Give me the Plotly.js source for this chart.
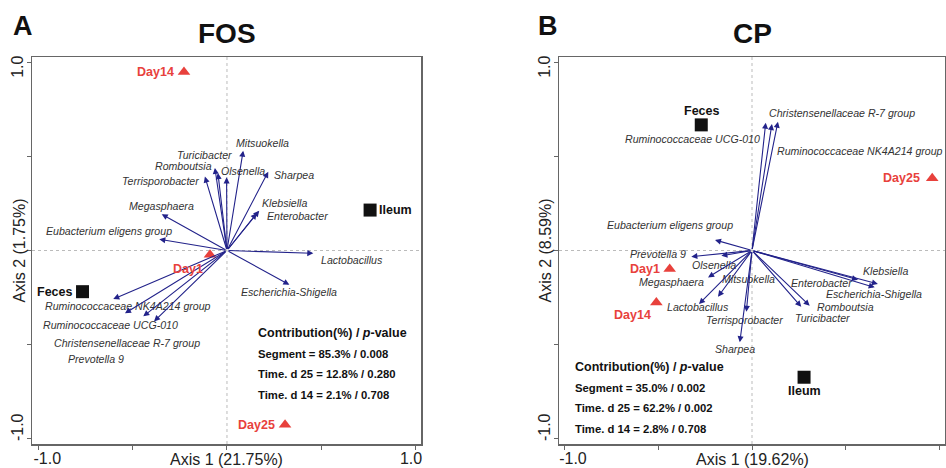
<!DOCTYPE html>
<html><head><meta charset="utf-8">
<script src="https://cdn.plot.ly/plotly-3.0.1.min.js"></script>
<style>html,body{margin:0;padding:0;background:#fff;}</style>
</head><body><div id="chart" style="width:946px;height:468px;"></div>
<script>
// ---------- Panel A : FOS ----------
const fosTaxa = ['Mitsuokella','Turicibacter','Romboutsia','Olsenella','Terrisporobacter','Sharpea','Klebsiella','Enterobacter','Megasphaera','Eubacterium eligens group','Lactobacillus','Escherichia-Shigella','Ruminococcaceae NK4A214 group','Ruminococcaceae UCG-010','Christensenellaceae R-7 group','Prevotella 9'];
const fosTaxaX = [0.086,-0.064,-0.048,-0.002,-0.117,0.219,0.171,0.158,-0.346,-0.359,0.458,0.331,-0.603,-0.541,-0.444,-0.387];
const fosTaxaY = [0.531,0.439,0.412,0.389,0.393,0.419,0.212,0.198,0.193,0.060,-0.015,-0.182,-0.258,-0.334,-0.350,-0.377];
const fosSamples = ['Day14','Day1','Day25','Feces','Ileum'];
const fosSampleX = [-0.228,-0.090,0.308,-0.766,0.759];
const fosSampleY = [0.949,-0.022,-0.927,-0.219,0.215];
const fosStats = ['Segment = 85.3% / 0.008','Time. d 25 = 12.8% / 0.280','Time. d 14 = 2.1% / 0.708'];
const fosAxis1 = 'Axis 1 (21.75%)';
const fosAxis2 = 'Axis 2 (1.75%)';

// ---------- Panel B : CP ----------
const cpTaxa = ['Ruminococcaceae UCG-010','Christensenellaceae R-7 group','Ruminococcaceae NK4A214 group','Eubacterium eligens group','Prevotella 9','Olsenella','Megasphaera','Mitsuokella','Lactobacillus','Terrisporobacter','Sharpea','Enterobacter','Klebsiella','Escherichia-Shigella','Romboutsia','Turicibacter'];
const cpTaxaX = [0.073,0.106,0.138,-0.197,-0.323,-0.163,-0.234,-0.181,-0.282,-0.030,-0.065,0.564,0.670,0.653,0.307,0.262];
const cpTaxaY = [0.680,0.673,0.685,0.056,-0.033,-0.028,-0.143,-0.246,-0.285,-0.326,-0.488,-0.155,-0.178,-0.196,-0.294,-0.299];
const cpSamples = ['Feces','Ileum','Day25','Day1','Day14'];
const cpSampleX = [-0.270,0.277,0.959,-0.438,-0.509];
const cpSampleY = [0.668,-0.674,0.384,-0.098,-0.276];
const cpStats = ['Segment = 35.0% / 0.002','Time. d 25 = 62.2% / 0.002','Time. d 14 = 2.8% / 0.708'];
const cpAxis1 = 'Axis 1 (19.62%)';
const cpAxis2 = 'Axis 2 (8.59%)';

const tickVals = [-1,-0.5,0,0.5,1];
const xTickText = ['\u00a0\u00a0\u00a0\u00a0-1.0','','','','1.0\u00a0\u00a0'];
const yTickText = ['\u00a0\u00a0\u00a0\u00a0-1.0','','','','1.0\u00a0\u00a0\u00a0'];

// ---------- label placement (layout, pixels) : [anchor, dx, dy] ----------
const fosTaxaLab = [['left',-8,-8],['right',18,-13],['right',-5,-7],['left',-7,-6],['right',-5,4],['left',5,3],['left',2,-8],['left',9,3],['center',0,-8],['right',14,-8],['left',7,7],['center',0,7],['left',-69,7],['left',-83,12],['left',-90,27],['left',-87,38]];
const fosSampleLab = [['right',-9,0],['right',-6,14],['right',-9,0],['right',-10,0],['left',8,0]];
const cpTaxaLab = [['right',-5,16],['left',-4,-11],['left',-2,29],['right',19,-15],['right',-4,-3],['left',-30,9],['right',-3,5],['left',3,-18],['left',-33,3],['center',-2,8],['center',-5,7],['right',-5,3],['left',-16,-13],['left',-50,7],['left',6,1],['left',-7,11]];
const cpSampleLab = [['center',0,-14],['center',0,13.5],['right',-11,0],['right',-9,0],['right',-4,13]];

const FONT = 'Liberation Sans, Arial, Helvetica, sans-serif';
const NAVY = '#22228a';
const RED = '#e8413c';
const W = 946, H = 468;
const px = v => v / W, py = v => 1 - v / H;

function sampleColor(n){ return n.startsWith('Day') ? RED : '#111'; }

const traces = [];
const annotations = [];

function addPanel(ax, taxa, tx, ty, tLab, samples, sx, sy, sLab, stats, statPos, a1, a2, a2x){
  const xr = ax === 1 ? 'x' : 'x2', yr = ax === 1 ? 'y' : 'y2';
  taxa.forEach((n,i)=>{
    annotations.push({xref:xr, yref:yr, axref:xr, ayref:yr, x:tx[i], y:ty[i], ax:0, ay:0, text:'',
      showarrow:true, arrowhead:2, arrowsize:1.1, arrowwidth:1.1, arrowcolor:NAVY, standoff:0});
    const L = tLab[i];
    annotations.push({xref:xr, yref:yr, x:tx[i], y:ty[i], text:'<i>'+n+'</i>', showarrow:false,
      xanchor:L[0], yanchor:'middle', xshift:L[1], yshift:-L[2], borderpad:0,
      font:{family:FONT, size:10.6, color:'#333'}});
  });
  const isDay = samples.map(n=>n.startsWith('Day'));
  traces.push({type:'scatter', mode:'markers', xaxis:xr, yaxis:yr,
    x:sx.filter((_,i)=>isDay[i]), y:sy.filter((_,i)=>isDay[i]),
    marker:{symbol:'triangle-up', size:11, color:RED}, hoverinfo:'skip'});
  traces.push({type:'scatter', mode:'markers', xaxis:xr, yaxis:yr,
    x:sx.filter((_,i)=>!isDay[i]), y:sy.filter((_,i)=>!isDay[i]),
    marker:{symbol:'square', size:13, color:'#111'}, hoverinfo:'skip'});
  samples.forEach((n,i)=>{
    const L = sLab[i];
    annotations.push({xref:xr, yref:yr, x:sx[i], y:sy[i], text:'<b>'+n+'</b>', showarrow:false,
      xanchor:L[0], yanchor:'middle', xshift:L[1], yshift:-L[2], borderpad:0,
      font:{family:FONT, size:12.5, color:sampleColor(n)}});
  });
  annotations.push({xref:'paper', yref:'paper', x:px(statPos[0]), y:py(statPos[1]), text:'<b>Contribution(%) / <i>p</i>-value</b>',
    showarrow:false, xanchor:'left', yanchor:'middle', borderpad:0, font:{family:FONT, size:12.5, color:'#111'}});
  stats.forEach((s,i)=>{
    annotations.push({xref:'paper', yref:'paper', x:px(statPos[0]), y:py(statPos[1] + 20.5*(i+1)), text:'<b>'+s+'</b>',
      showarrow:false, xanchor:'left', yanchor:'middle', borderpad:0, font:{family:FONT, size:11.3, color:'#111'}});
  });
  annotations.push({xref:xr, yref:'paper', x:0, y:py(459), text:a1, showarrow:false, xanchor:'center', yanchor:'middle', borderpad:0,
    font:{family:FONT, size:16, color:'#222'}});
  annotations.push({xref:'paper', yref:yr, x:px(a2x), y:0, text:a2, textangle:-90, showarrow:false, xanchor:'center', yanchor:'middle',
    font:{family:FONT, size:16, color:'#222'}});
}

addPanel(1, fosTaxa, fosTaxaX, fosTaxaY, fosTaxaLab, fosSamples, fosSampleX, fosSampleY, fosSampleLab, fosStats, [257,333], fosAxis1, fosAxis2, 19);
addPanel(2, cpTaxa, cpTaxaX, cpTaxaY, cpTaxaLab, cpSamples, cpSampleX, cpSampleY, cpSampleLab, cpStats, [574,367.3], cpAxis1, cpAxis2, 545);

// titles & panel letters
annotations.push({xref:'x', yref:'paper', x:0, y:py(34), text:'<b>FOS</b>', showarrow:false, xanchor:'center', yanchor:'middle', font:{family:FONT, size:28, color:'#111'}});
annotations.push({xref:'x2', yref:'paper', x:0, y:py(34), text:'<b>CP</b>', showarrow:false, xanchor:'center', yanchor:'middle', font:{family:FONT, size:28, color:'#111'}});
annotations.push({xref:'paper', yref:'paper', x:px(22.5), y:py(25.5), text:'<b>A</b>', showarrow:false, xanchor:'center', yanchor:'middle', font:{family:FONT, size:27, color:'#111'}});
annotations.push({xref:'paper', yref:'paper', x:px(547.5), y:py(25.5), text:'<b>B</b>', showarrow:false, xanchor:'center', yanchor:'middle', font:{family:FONT, size:27, color:'#111'}});

function xAxis(dom, rng){
  return {domain:dom, range:rng, tickvals:tickVals, ticktext:xTickText, ticks:'outside', ticklen:4, tickwidth:1, tickcolor:'#666',
    ticklabelstandoff:-5,
    showline:true, mirror:true, linecolor:'#666', linewidth:1.5, showgrid:false, zeroline:false,
    tickfont:{family:FONT, size:16, color:'#222'}, fixedrange:true};
}
function yAxis(dom, rng, anchor){
  return {domain:dom, range:rng, anchor:anchor, tickvals:tickVals, ticktext:yTickText, tickangle:-90, ticks:'outside', ticklen:4, tickwidth:1, tickcolor:'#666',
    ticklabelstandoff:-3,
    showline:true, mirror:true, linecolor:'#666', linewidth:1.5, showgrid:false, zeroline:false,
    tickfont:{family:FONT, size:16, color:'#222'}, fixedrange:true};
}
const yDom = [1-444/H, 1-57/H];
const layout = {
  width:W, height:H, margin:{l:0,r:0,t:0,b:0}, paper_bgcolor:'#fff', plot_bgcolor:'#fff', showlegend:false,
  xaxis: Object.assign(xAxis([32/W, 421/W], [-1.034, 1.029]), {anchor:'y'}),
  yaxis: yAxis(yDom, [-1.029, 1.029], 'x'),
  xaxis2: Object.assign(xAxis([559/W, 945/W], [-1.027, 1.027]), {anchor:'y2'}),
  yaxis2: yAxis(yDom, [-1.029, 1.029], 'x2'),
  shapes: [
    {type:'line', xref:'x', yref:'y domain', x0:0, x1:0, y0:0, y1:1, layer:'below', line:{color:'#bbb', width:1, dash:'dot'}},
    {type:'line', xref:'x domain', yref:'y', x0:0, x1:1, y0:0, y1:0, layer:'below', line:{color:'#bbb', width:1, dash:'dot'}},
    {type:'line', xref:'x2', yref:'y2 domain', x0:0, x1:0, y0:0, y1:1, layer:'below', line:{color:'#bbb', width:1, dash:'dot'}},
    {type:'line', xref:'x2 domain', yref:'y2', x0:0, x1:1, y0:0, y1:0, layer:'below', line:{color:'#bbb', width:1, dash:'dot'}}
  ],
  annotations: annotations
};
Plotly.newPlot('chart', traces, layout, {staticPlot:true, displayModeBar:false});
</script>
</body></html>
